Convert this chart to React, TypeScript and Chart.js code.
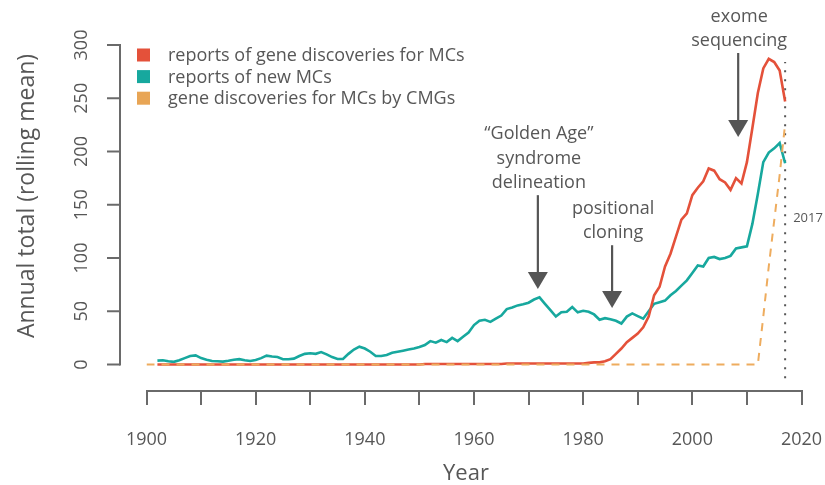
import React, { useEffect, useRef } from "react";
import { Chart, registerables } from "chart.js";

Chart.register(...registerables);

// ---------- data ----------
const years = [
  1900, 1901, 1902, 1903, 1904, 1905, 1906, 1907, 1908, 1909,
  1910, 1911, 1912, 1913, 1914, 1915, 1916, 1917, 1918, 1919,
  1920, 1921, 1922, 1923, 1924, 1925, 1926, 1927, 1928, 1929,
  1930, 1931, 1932, 1933, 1934, 1935, 1936, 1937, 1938, 1939,
  1940, 1941, 1942, 1943, 1944, 1945, 1946, 1947, 1948, 1949,
  1950, 1951, 1952, 1953, 1954, 1955, 1956, 1957, 1958, 1959,
  1960, 1961, 1962, 1963, 1964, 1965, 1966, 1967, 1968, 1969,
  1970, 1971, 1972, 1973, 1974, 1975, 1976, 1977, 1978, 1979,
  1980, 1981, 1982, 1983, 1984, 1985, 1986, 1987, 1988, 1989,
  1990, 1991, 1992, 1993, 1994, 1995, 1996, 1997, 1998, 1999,
  2000, 2001, 2002, 2003, 2004, 2005, 2006, 2007, 2008, 2009,
  2010, 2011, 2012, 2013, 2014, 2015, 2016, 2017,
];

// reports of gene discoveries for MCs (rolling mean)
const geneDiscoveries = [
  null, null, 0, 0, 0, 0, 0, 0, 0, 0,
  0, 0, 0, 0, 0, 0, 0, 0, 0, 0,
  0, 0, 0, 0, 0, 0, 0, 0, 0, 0,
  0, 0, 0, 0, 0, 0, 0, 0, 0, 0,
  0, 0, 0, 0, 0, 0, 0, 0, 0, 0,
  0, 0.5, 0.5, 0.5, 0.5, 0.5, 0.5, 0.5, 0.5, 0.5,
  0.5, 0.5, 0.5, 0.5, 0.5, 0.5, 1, 1, 1, 1,
  1, 1, 1, 1, 1, 1, 1, 1, 1, 1,
  1, 1.5, 2, 2, 3, 5, 10, 15, 21, 25,
  29, 35, 45, 65, 73, 92, 104, 120, 136, 142,
  159, 166, 172, 184, 182, 174, 171, 164, 175, 170,
  190, 222, 255, 278, 287, 284, 276, 247,
];

// reports of new MCs (rolling mean)
const newMCs = [
  null, null, 3.6, 4, 3, 2.5, 4, 6, 8, 8.5,
  6, 4.5, 3.3, 3, 2.7, 3.5, 4.5, 5, 4, 3.3,
  4.2, 6, 8.3, 7.5, 7, 5, 5, 5.5, 8, 10,
  10.5, 10, 11.7, 9.5, 7, 5.2, 5.2, 10, 14, 16.7,
  15, 12, 8, 8, 9, 11, 12, 13, 14, 15,
  16.5, 18.3, 22, 20.5, 23, 21, 25, 22, 26, 30,
  37, 41, 42, 40, 43, 46, 52, 53.5, 55.5, 56.5,
  58, 61, 63, 57, 51, 45, 49, 49.5, 54, 49,
  50.5, 49.5, 47, 42, 43.5, 42.5, 41, 38.5, 45, 48,
  45.5, 43, 50, 57, 58.5, 60, 65, 69, 74, 79,
  86, 93, 92, 100, 101, 99, 100, 102, 109, 110,
  111, 132, 160, 190, 199, 203, 208, 189,
];

// gene discoveries for MCs by CMGs (rolling mean)
const cmgDiscoveries = [
  0, 0, 0, 0, 0, 0, 0, 0, 0, 0,
  0, 0, 0, 0, 0, 0, 0, 0, 0, 0,
  0, 0, 0, 0, 0, 0, 0, 0, 0, 0,
  0, 0, 0, 0, 0, 0, 0, 0, 0, 0,
  0, 0, 0, 0, 0, 0, 0, 0, 0, 0,
  0, 0, 0, 0, 0, 0, 0, 0, 0, 0,
  0, 0, 0, 0, 0, 0, 0, 0, 0, 0,
  0, 0, 0, 0, 0, 0, 0, 0, 0, 0,
  0, 0, 0, 0, 0, 0, 0, 0, 0, 0,
  0, 0, 0, 0, 0, 0, 0, 0, 0, 0,
  0, 0, 0, 0, 0, 0, 0, 0, 0, 0,
  0, 0, 0, 45, 92, 135, 178, 226,
];

const seriesLabels = [
  "reports of gene discoveries for MCs",
  "reports of new MCs",
  "gene discoveries for MCs by CMGs",
];

const xTicks = [1900, 1910, 1920, 1930, 1940, 1950, 1960, 1970, 1980, 1990, 2000, 2010, 2020];
const xLabelled = [1900, 1920, 1940, 1960, 1980, 2000, 2020];
const yTicks = [0, 50, 100, 150, 200, 250, 300];

const markerYear = 2017;
const markerLow = -13;
const markerHigh = 284;
const markerLabel = "2017";
const markerLabelValue = 137;

const annotations = [
  { year: 1971.7, top: 159, tip: 71, lines: ["\u201CGolden Age\u201D", "syndrome", "delineation"] },
  { year: 1985.3, top: 112, tip: 53, lines: ["positional", "cloning"] },
  { year: 2008.4, top: 292.5, tip: 213.6, lines: ["exome", "sequencing"] },
];

const yTitle = "Annual total (rolling mean)";
const xTitle = "Year";

// ---------- styles ----------
const RED = "#E4513A";
const TEAL = "#17A89E";
const ORANGE = "#EEAC5E";
const AXIS = "#6a6a6a";
const TEXT = "#575757";
const ARROW = "#555555";
const FONT = '"Open Sans", "Noto Sans", sans-serif';

const pts = (arr: (number | null)[]) => years.map((yr, i) => ({ x: yr, y: arr[i] }));

const decorPlugin = {
  id: "decor",
  afterDraw(chart: any) {
    const { ctx, scales } = chart;
    const x = scales.x;
    const y = scales.y;
    ctx.save();

    // y axis (detached, R style)
    const ax = x.left - 26.5;
    ctx.strokeStyle = AXIS;
    ctx.lineWidth = 2;
    ctx.lineCap = "butt";
    ctx.beginPath();
    ctx.moveTo(ax, y.getPixelForValue(yTicks[0]) + 1);
    ctx.lineTo(ax, y.getPixelForValue(yTicks[yTicks.length - 1]) - 1);
    ctx.stroke();
    ctx.fillStyle = TEXT;
    ctx.font = `18px ${FONT}`;
    ctx.textAlign = "center";
    ctx.textBaseline = "middle";
    yTicks.forEach((v) => {
      const py = y.getPixelForValue(v);
      ctx.beginPath();
      ctx.moveTo(ax - 13, py);
      ctx.lineTo(ax, py);
      ctx.stroke();
      ctx.save();
      ctx.translate(ax - 38, py);
      ctx.rotate(-Math.PI / 2);
      ctx.fillText(String(v), 0, 0);
      ctx.restore();
    });

    // axis titles
    ctx.font = `23px ${FONT}`;
    ctx.fillStyle = TEXT;
    ctx.save();
    ctx.translate(27, 196);
    ctx.rotate(-Math.PI / 2);
    ctx.fillText(yTitle, 0, 0);
    ctx.restore();
    ctx.font = `22px ${FONT}`;
    ctx.textBaseline = "alphabetic";
    ctx.fillText(xTitle, 466, 480);

    // legend
    ctx.font = `18px ${FONT}`;
    ctx.textAlign = "left";
    ctx.textBaseline = "middle";
    chart.data.datasets.slice(0, 3).forEach((ds: any, i: number) => {
      const cy = 55 + i * 21.6;
      ctx.fillStyle = ds.legendColor || ds.borderColor;
      ctx.fillRect(137, cy - 6.5, 13, 13);
      ctx.fillStyle = TEXT;
      ctx.fillText(ds.label, 168, cy + 1);
    });

    // marker label
    ctx.font = `13px ${FONT}`;
    ctx.fillStyle = TEXT;
    ctx.fillText(markerLabel, x.getPixelForValue(markerYear) + 8, y.getPixelForValue(markerLabelValue));

    // annotations with arrows
    annotations.forEach((a) => {
      const px = x.getPixelForValue(a.year);
      const top = y.getPixelForValue(a.top);
      const tip = y.getPixelForValue(a.tip);
      ctx.strokeStyle = ARROW;
      ctx.fillStyle = ARROW;
      ctx.lineWidth = 2.2;
      ctx.beginPath();
      ctx.moveTo(px, top);
      ctx.lineTo(px, tip - 14);
      ctx.stroke();
      ctx.beginPath();
      ctx.moveTo(px - 10, tip - 17);
      ctx.lineTo(px + 10, tip - 17);
      ctx.lineTo(px, tip);
      ctx.closePath();
      ctx.fill();
      ctx.font = `18px ${FONT}`;
      ctx.fillStyle = TEXT;
      ctx.textAlign = "center";
      ctx.textBaseline = "middle";
      const n = a.lines.length;
      a.lines.forEach((t, i) => {
        ctx.fillText(t, px + 1, top - 12 - (n - 1 - i) * 24.5);
      });
    });

    ctx.restore();
  },
};

export default function App() {
  const ref = useRef<HTMLCanvasElement>(null);
  useEffect(() => {
    const chart = new Chart(ref.current as HTMLCanvasElement, {
      type: "line",
      data: {
        datasets: [
          {
            label: seriesLabels[0],
            data: pts(geneDiscoveries),
            borderColor: RED,
            borderWidth: 2.6,
            pointRadius: 0,
            order: 1,
          },
          {
            label: seriesLabels[1],
            data: pts(newMCs),
            borderColor: TEAL,
            borderWidth: 2.6,
            pointRadius: 0,
            order: 2,
          },
          {
            label: seriesLabels[2],
            data: pts(cmgDiscoveries),
            borderColor: ORANGE,
            legendColor: "#E8A555",
            borderWidth: 2,
            borderDash: [8, 7],
            pointRadius: 0,
            order: 0,
          } as any,
          {
            label: markerLabel,
            data: [
              { x: markerYear, y: markerLow },
              { x: markerYear, y: markerHigh },
            ],
            borderColor: "#555555",
            borderWidth: 2,
            borderDash: [2, 7],
            pointRadius: 0,
            order: 3,
          },
        ],
      },
      options: {
        animation: false,
        responsive: true,
        maintainAspectRatio: false,
        layout: { padding: { left: 146.5, right: 23.5, top: 5, bottom: 0 } },
        plugins: { legend: { display: false }, tooltip: { enabled: false } },
        scales: {
          x: {
            type: "linear",
            min: 1900,
            max: 2020,
            afterBuildTicks: (s: any) => {
              s.ticks = xTicks.map((v) => ({ value: v }));
            },
            afterFit: (s: any) => {
              s.height = 94;
              s.paddingLeft = 0;
              s.paddingRight = 0;
            },
            ticks: {
              autoSkip: false,
              maxRotation: 0,
              padding: 24,
              color: TEXT,
              font: { size: 18, family: FONT },
              callback: (v: any) => (xLabelled.includes(Number(v)) ? String(v) : ""),
            },
            grid: {
              drawOnChartArea: false,
              drawTicks: true,
              tickLength: 14,
              color: AXIS,
              lineWidth: 2,
            },
            border: { display: true, color: AXIS, width: 2 },
          },
          y: {
            type: "linear",
            display: false,
            min: -24.88,
            max: 337.56,
          },
        },
      },
      plugins: [decorPlugin],
    });
    return () => chart.destroy();
  }, []);
  return (
    <div style={{ position: "absolute", left: 0, top: 0, width: 825, height: 485, background: "#fff" }}>
      <canvas ref={ref} />
    </div>
  );
}
